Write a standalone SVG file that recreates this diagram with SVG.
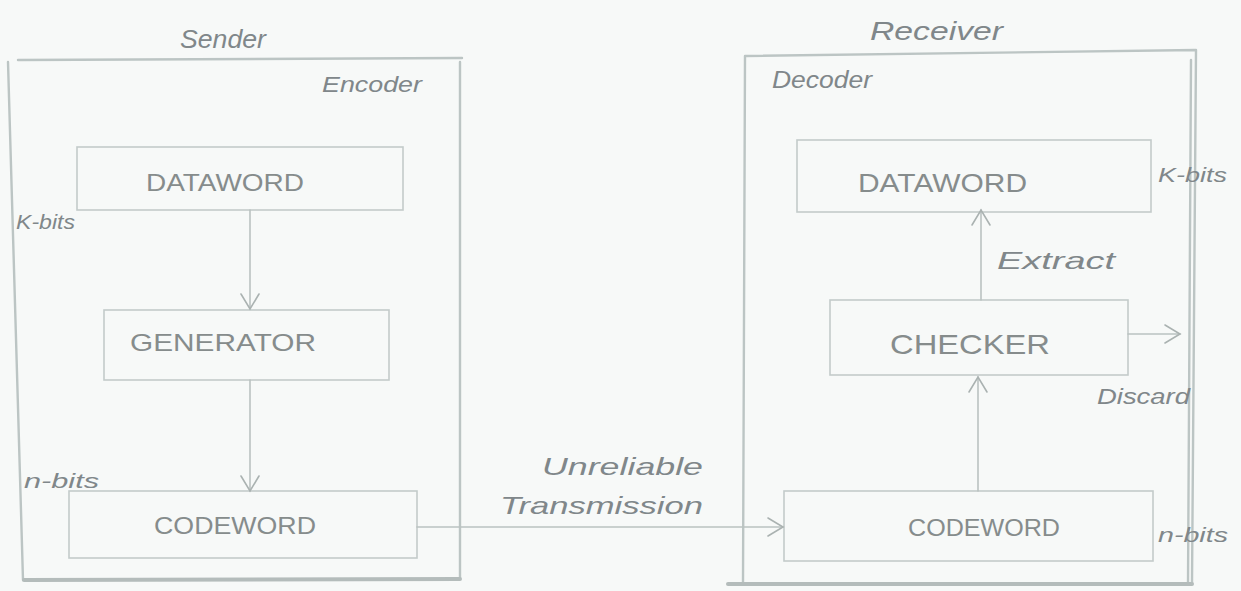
<svg xmlns="http://www.w3.org/2000/svg" width="1241" height="591" viewBox="0 0 1241 591">
  <style>
    .frame { fill: none; stroke: #bcc5c4; stroke-width: 2.4; stroke-linecap: round; }
    .frame-b { fill: none; stroke: #b4bcbb; stroke-width: 4; stroke-linecap: round; }
    .box { fill: none; stroke: #c3cbca; stroke-width: 1.6; stroke-linecap: round; }
    .conn { fill: none; stroke: #bac2c1; stroke-width: 1.6; stroke-linecap: round; }
    .lbl { font-family: "Liberation Sans", "DejaVu Sans", sans-serif; fill: #80878a; font-style: italic; }
    .cap { font-family: "Liberation Sans", "DejaVu Sans", sans-serif; fill: #868c8c; font-style: normal; }
  </style>
  <defs>
    <marker id="arr" viewBox="-18 -12 20 24" refX="0" refY="0" markerWidth="20" markerHeight="24" markerUnits="userSpaceOnUse" orient="auto">
      <path d="M-15,-9 L0,0 L-15,9" fill="none" stroke="#aab2b1" stroke-width="1.6" stroke-linecap="round"/>
    </marker>
  </defs>
  <rect x="0" y="0" width="1241" height="591" fill="#f7f9f8"/>

  <g id="sender">
    <path class="frame" d="M18,60 L462,58 M8,62 L23,580 M460,62 L460,578"/>
    <path class="frame-b" d="M24,580 L460,579"/>
    <text class="lbl" x="180" y="48" font-size="26" textLength="86" lengthAdjust="spacingAndGlyphs">Sender</text>
    <text class="lbl" x="322" y="92" font-size="22" textLength="100" lengthAdjust="spacingAndGlyphs">Encoder</text>
  </g>

  <g id="sender-dataword">
    <rect class="box" x="77" y="147" width="326" height="63"/>
    <text class="cap" x="146" y="191" font-size="24" textLength="158" lengthAdjust="spacingAndGlyphs">DATAWORD</text>
    <text class="lbl" x="16" y="229" font-size="20" textLength="59" lengthAdjust="spacingAndGlyphs">K-bits</text>
  </g>

  <g id="sender-generator">
    <rect class="box" x="104" y="310" width="285" height="70"/>
    <text class="cap" x="130" y="351" font-size="24" textLength="186" lengthAdjust="spacingAndGlyphs">GENERATOR</text>
  </g>

  <g id="sender-codeword">
    <rect class="box" x="69" y="491" width="348" height="67"/>
    <text class="cap" x="154" y="534" font-size="24" textLength="162" lengthAdjust="spacingAndGlyphs">CODEWORD</text>
    <text class="lbl" x="24" y="488" font-size="20" textLength="75" lengthAdjust="spacingAndGlyphs">n-bits</text>
  </g>

  <g id="receiver">
    <path class="frame" d="M745,56 L1196,50 M745,56 L743,584 M1196,50 L1192,584"/>
    <path class="frame" d="M1191,60 L1188,584"/>
    <path class="frame-b" d="M728,584 L1192,584"/>
    <text class="lbl" x="870" y="40" font-size="26" textLength="133" lengthAdjust="spacingAndGlyphs">Receiver</text>
    <text class="lbl" x="772" y="88" font-size="24" textLength="100" lengthAdjust="spacingAndGlyphs">Decoder</text>
  </g>

  <g id="receiver-dataword">
    <rect class="box" x="797" y="140" width="354" height="72"/>
    <text class="cap" x="858" y="192" font-size="26" textLength="169" lengthAdjust="spacingAndGlyphs">DATAWORD</text>
    <text class="lbl" x="1158" y="182" font-size="20" textLength="69" lengthAdjust="spacingAndGlyphs">K-bits</text>
  </g>

  <g id="receiver-checker">
    <rect class="box" x="830" y="300" width="298" height="75"/>
    <text class="cap" x="890" y="354" font-size="28" textLength="160" lengthAdjust="spacingAndGlyphs">CHECKER</text>
  </g>

  <g id="receiver-codeword">
    <rect class="box" x="784" y="491" width="369" height="70"/>
    <text class="cap" x="908" y="536" font-size="24" textLength="152" lengthAdjust="spacingAndGlyphs">CODEWORD</text>
    <text class="lbl" x="1158" y="542" font-size="20" textLength="70" lengthAdjust="spacingAndGlyphs">n-bits</text>
  </g>

  <g id="connectors">
    <path class="conn" d="M250,210 L250,309" marker-end="url(#arr)"/>
    <path class="conn" d="M250,380 L250,491" marker-end="url(#arr)"/>
    <path class="conn" d="M417,527 L783,527" marker-end="url(#arr)"/>
    <path class="conn" d="M978,491 L978,377" marker-end="url(#arr)"/>
    <path class="conn" d="M981,300 L981,210" marker-end="url(#arr)"/>
    <path class="conn" d="M1128,334 L1180,334" marker-end="url(#arr)"/>
    <text class="lbl" x="542" y="475" font-size="24" textLength="161" lengthAdjust="spacingAndGlyphs">Unreliable</text>
    <text class="lbl" x="500" y="514" font-size="24" textLength="203" lengthAdjust="spacingAndGlyphs">Transmission</text>
    <text class="lbl" x="997" y="269" font-size="24" textLength="118" lengthAdjust="spacingAndGlyphs">Extract</text>
    <text class="lbl" x="1097" y="404" font-size="22" textLength="93" lengthAdjust="spacingAndGlyphs">Discard</text>
  </g>
</svg>
